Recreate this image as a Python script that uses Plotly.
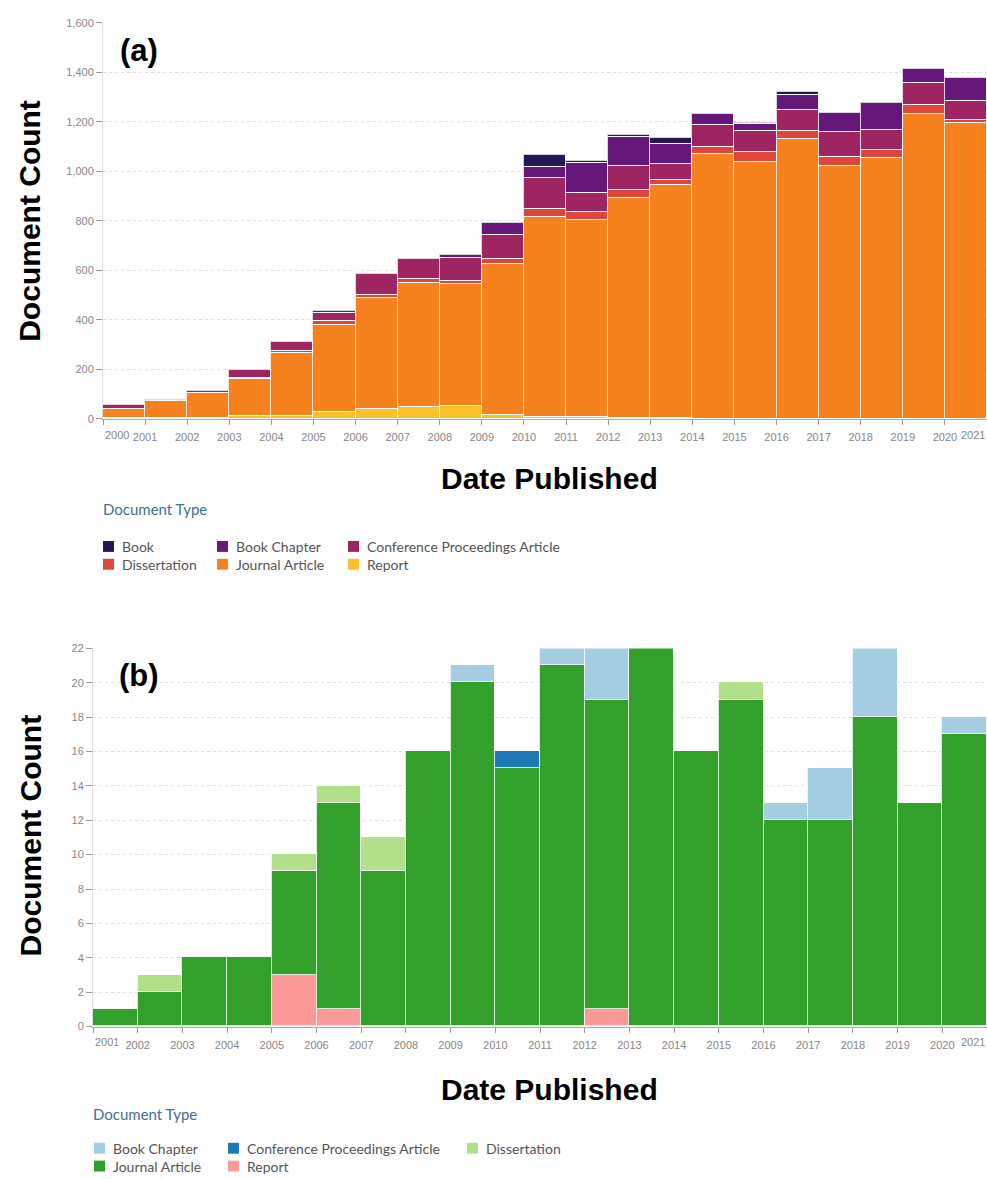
import plotly.graph_objects as go

W, H = 987, 1179

# ---------------- Panel (a) data ----------------
years_a = [2000, 2001, 2002, 2003, 2004, 2005, 2006, 2007, 2008, 2009, 2010,
           2011, 2012, 2013, 2014, 2015, 2016, 2017, 2018, 2019, 2020]
types_a = ["Book", "Book Chapter", "Conference Proceedings Article",
           "Dissertation", "Journal Article", "Report"]
colors_a = ["#261558", "#66187a", "#9e2462", "#e0453a", "#f5821e", "#fbc02a"]
book_a = [0, 0, 0, 0, 0, 0, 0, 0, 0, 0, 51, 9, 5, 23, 0, 5, 11, 0, 0, 0, 0]
chapter_a = [0, 0, 0, 0, 0, 8, 0, 0, 9, 47, 45, 120, 119, 80, 45, 26, 61, 79, 107, 57, 93]
conf_a = [15, 6, 9, 29, 36, 33, 84, 84, 93, 97, 124, 77, 96, 68, 88, 87, 83, 99, 80, 89, 76]
diss_a = [0, 0, 0, 7, 9, 13, 13, 13, 15, 23, 33, 36, 35, 20, 27, 39, 35, 37, 33, 35, 13]
journal_a = [37, 67, 101, 147, 252, 352, 448, 504, 493, 609, 806, 793, 886, 942,
             1071, 1038, 1130, 1023, 1055, 1232, 1196]
report_a = [5, 4, 3, 13, 13, 29, 40, 47, 51, 16, 9, 9, 5, 2, 0, 0, 0, 0, 0, 0, 0]
ticks_a = [0, 200, 400, 600, 800, 1000, 1200, 1400, 1600]

# ---------------- Panel (b) data ----------------
years_b = [2001, 2002, 2003, 2004, 2005, 2006, 2007, 2008, 2009, 2010,
           2011, 2012, 2013, 2014, 2015, 2016, 2017, 2018, 2019, 2020]
types_b = ["Book Chapter", "Conference Proceedings Article", "Dissertation",
           "Journal Article", "Report"]
colors_b = ["#a6cee3", "#1f78b4", "#b2df8a", "#33a02c", "#fb9a99"]
chapter_b = [0, 0, 0, 0, 0, 0, 0, 0, 1, 0, 1, 3, 0, 0, 0, 1, 3, 4, 0, 1]
conf_b = [0, 0, 0, 0, 0, 0, 0, 0, 0, 1, 0, 0, 0, 0, 0, 0, 0, 0, 0, 0]
diss_b = [0, 1, 0, 0, 1, 1, 2, 0, 0, 0, 0, 0, 0, 0, 1, 0, 0, 0, 0, 0]
journal_b = [1, 2, 4, 4, 6, 12, 9, 16, 20, 15, 21, 18, 22, 16, 19, 12, 12, 18, 13, 17]
report_b = [0, 0, 0, 0, 3, 1, 0, 0, 0, 0, 0, 1, 0, 0, 0, 0, 0, 0, 0, 0]
ticks_b = [0, 2, 4, 6, 8, 10, 12, 14, 16, 18, 20, 22]

# ---------------- layout helpers ----------------
def px(x):
    return x / W

def py(y):
    return 1 - y / H

TICK_FONT = dict(family="Liberation Sans, Arial", size=11, color="#888888")
TITLE_FONT = dict(family="Liberation Sans, Arial", size=30, color="#000000")
LEG_FONT = dict(family="Lato, Open Sans", size=14, color="#555555")
LEG_TITLE_FONT = dict(family="Lato, Open Sans", size=15, color="#3f7098")

fig = go.Figure()

series_a = [book_a, chapter_a, conf_a, diss_a, journal_a, report_a]
series_b = [chapter_b, conf_b, diss_b, journal_b, report_b]

BAR_LINE = dict(color="rgba(255,255,255,0.8)", width=1.3)

# stacking order bottom -> top is reverse of legend order
for name, color, vals in reversed(list(zip(types_a, colors_a, series_a))):
    fig.add_trace(go.Bar(
        x=[y + 0.5 for y in years_a], y=[v if v else None for v in vals],
        width=1, name=name, marker=dict(color=color, line=BAR_LINE),
        xaxis="x", yaxis="y", showlegend=False))

for name, color, vals in reversed(list(zip(types_b, colors_b, series_b))):
    fig.add_trace(go.Bar(
        x=[y + 0.5 for y in years_b], y=[v if v else None for v in vals],
        width=1, name=name, marker=dict(color=color, line=BAR_LINE),
        xaxis="x2", yaxis="y2", showlegend=False))

edges_a = years_a + [years_a[-1] + 1]
edges_b = years_b + [years_b[-1] + 1]

xa_text = [""] + [str(e) for e in edges_a[1:-1]] + [""]
xb_text = [""] + [str(e) for e in edges_b[1:-1]] + [""]

common_x = dict(showgrid=False, zeroline=False, showline=True, linecolor="#aaaaaa",
                ticks="outside", ticklen=5, tickcolor="#999999", tickfont=TICK_FONT,
                ticklabelstandoff=3, tickmode="array", fixedrange=True)
common_y = dict(showgrid=True, gridcolor="#dddddd", griddash="dot", gridwidth=1,
                zeroline=False, showline=True, linecolor="#dddddd",
                ticks="outside", ticklen=6, tickcolor="#999999", tickfont=TICK_FONT,
                tickmode="array", fixedrange=True)

fig.update_layout(
    width=W, height=H,
    margin=dict(l=0, r=0, t=0, b=0),
    paper_bgcolor="white", plot_bgcolor="white",
    barmode="stack", bargap=0,
    showlegend=False,
    xaxis=dict(domain=[px(103), 1], range=[edges_a[0], edges_a[-1]],
               tickvals=edges_a, ticktext=xa_text, anchor="y", **common_x),
    yaxis=dict(domain=[py(417), py(17)], range=[0, 1600], tickvals=ticks_a,
               tickformat=",", anchor="x", **common_y),
    xaxis2=dict(domain=[px(93), 1], range=[edges_b[0], edges_b[-1]],
                tickvals=edges_b, ticktext=xb_text, anchor="y2", **common_x),
    yaxis2=dict(domain=[py(1031), py(649)], range=[0, 22], tickvals=ticks_b,
                anchor="x2", **common_y),
)

ann = []
shapes = []

# edge tick labels (first left-aligned, last right-aligned so they stay inside the page)
for xr, edges, yy in [("x", edges_a, 433), ("x2", edges_b, 1047)]:
    ann.append(dict(x=edges[0], y=py(yy), xref=xr, yref="paper", yanchor="middle",
                    xanchor="left", text=str(edges[0]), showarrow=False, font=TICK_FONT))
    ann.append(dict(x=edges[-1], y=py(yy), xref=xr, yref="paper", yanchor="middle",
                    xanchor="right", text=str(edges[-1]), showarrow=False, font=TICK_FONT))

# axis titles
for (cx, cy, txt, angle) in [(30, 217, "Document Count", -90), (549, 477, "Date Published", 0),
                             (30, 838, "Document Count", -90), (549, 1095, "Date Published", 0)]:
    ann.append(dict(x=px(cx), y=py(cy), xref="paper", yref="paper", xanchor="center",
                    yanchor="middle", text="<b>%s</b>" % txt, textangle=angle,
                    showarrow=False, font=TITLE_FONT))

# panel labels
for (cx, cy, txt) in [(139, 45, "(a)"), (139, 676, "(b)")]:
    ann.append(dict(x=px(cx), y=py(cy), xref="paper", yref="paper", xanchor="center",
                    yanchor="middle", text="<b>%s</b>" % txt, showarrow=False,
                    font=dict(family="Liberation Sans, Arial", size=31, color="#000000")))

# manual legends (3 columns x 2 rows)
def legend(title_xy, col_x, row_y, names, colors):
    tx, ty = title_xy
    ann.append(dict(x=px(tx), y=py(ty), xref="paper", yref="paper", xanchor="left",
                    yanchor="middle", text="Document Type", showarrow=False,
                    font=LEG_TITLE_FONT))
    for i, (n, c) in enumerate(zip(names, colors)):
        cx = col_x[i % 3]
        cy = row_y[i // 3]
        s = 11
        shapes.append(dict(type="rect", xref="paper", yref="paper",
                           x0=px(cx), x1=px(cx + s), y0=py(cy + s / 2), y1=py(cy - s / 2),
                           fillcolor=c, line=dict(width=0)))
        ann.append(dict(x=px(cx + s + 6), y=py(cy), xref="paper", yref="paper",
                        xanchor="left", yanchor="middle", text=n, showarrow=False,
                        font=LEG_FONT))

legend((101, 508), [103, 217, 348], [546, 564], types_a, colors_a)
legend((91, 1119), [94, 228, 467], [1154, 1172], types_b, colors_b)

fig.update_layout(annotations=ann, shapes=shapes)
fig.write_html("out.html", config={"displayModeBar": False},
               post_script="document.body.style.margin='0';document.body.style.overflow='hidden';")
